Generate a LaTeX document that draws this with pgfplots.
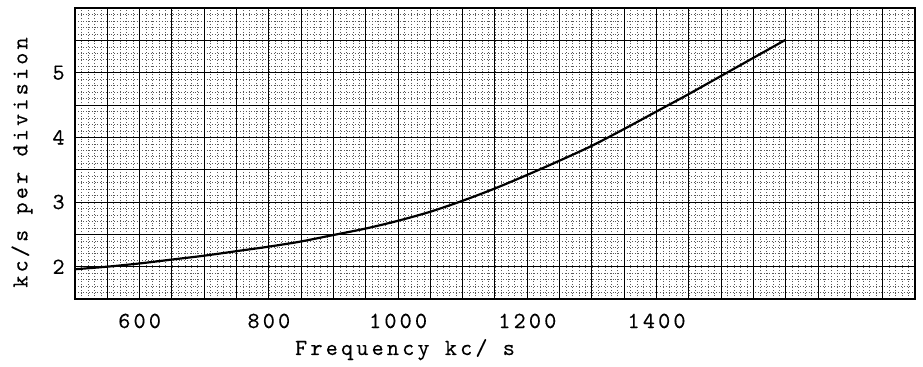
\documentclass[border=0pt]{standalone}
\usepackage{fontspec}
\usepackage{pgfplots}
\pgfplotsset{compat=1.18}
\newfontfamily\twf{lmmono10-regular.otf}[LetterSpace=14,FakeBold=0.2]
\newcommand{\tw}{\fontsize{11.5}{13}\selectfont\twf}
\begin{document}
\begin{tikzpicture}
\begin{axis}[
 at={(0,0)}, anchor=south west,
 scale only axis, width=420pt, height=145.5pt,
 xmin=500, xmax=1800, ymin=1.5, ymax=6,
 xtick={600,800,1000,1200,1400},
 ytick={2,3,4,5},
 minor xtick={500,510,...,1800},
 minor ytick={1.5,1.6,...,6.01},
 extra x ticks={500,550,...,1800}, extra x tick labels={},
 extra y ticks={1.5,2,...,6}, extra y tick labels={},
 extra tick style={grid=major},
 grid=both,
 major grid style={black, line width=0.5pt},
 minor grid style={black!65, densely dotted, line width=0.3pt},
 major tick length=0pt, minor tick length=0pt,
 tick style={draw=none},
 axis line style={black, line width=0.6pt},
 /pgf/number format/assume math mode=true,
 /pgf/number format/1000 sep={},
 ticklabel style={font=\tw},
 xticklabel style={anchor=base, yshift=-14.5pt, inner sep=0pt},
 yticklabel style={anchor=east, inner sep=0pt, xshift=-5pt},
 xlabel={Frequency kc/ s},
 ylabel={kc/s per division},
 label style={font=\tw},
 xlabel style={at={(axis description cs:0.3929,-0.1924)}, anchor=base, inner sep=0pt},
 ylabel style={at={(axis description cs:-0.0631,0.469)}, anchor=center, inner sep=0pt},
]
\addplot[black, line width=1.1pt, smooth] coordinates {(500,1.96) (550,2.00) (600,2.05) (650,2.11) (700,2.17) (750,2.24) (800,2.31) (850,2.39) (900,2.49) (950,2.59) (1000,2.71) (1050,2.85) (1100,3.02) (1150,3.21) (1200,3.42) (1250,3.64) (1300,3.87) (1350,4.13) (1400,4.40) (1450,4.67) (1500,4.95) (1550,5.23) (1600,5.51)};
\end{axis}
\pgfresetboundingbox
\path (-37.5pt,-33.5pt) rectangle (424pt,149.5pt);
\end{tikzpicture}
\end{document}
